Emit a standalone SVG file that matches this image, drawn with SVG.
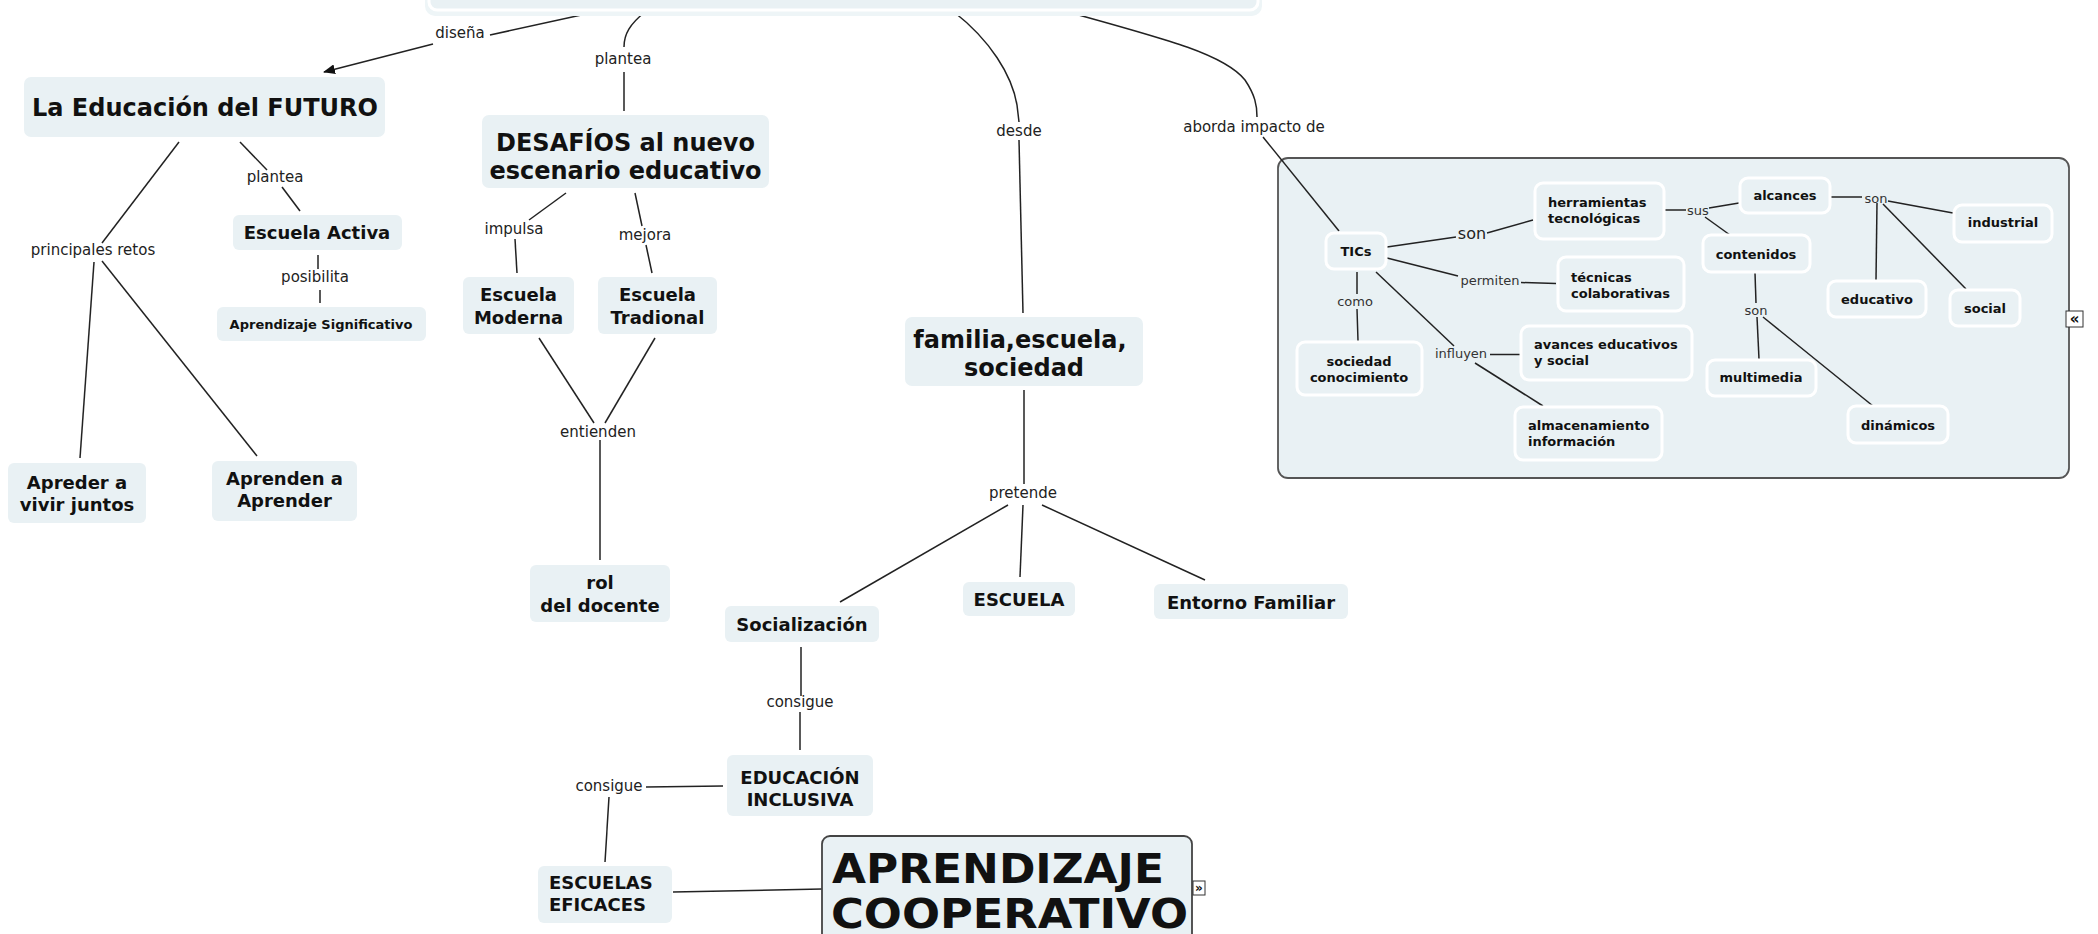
<svg xmlns="http://www.w3.org/2000/svg" width="2098" height="934" viewBox="0 0 2098 934">
<style>
.bg{fill:#ffffff}
.n{fill:#e9f1f4}
.in{fill:#e9f1f4;stroke:#ffffff;stroke-width:3}
.t{font-family:"DejaVu Sans",Verdana,sans-serif;font-weight:bold;fill:#111;text-anchor:middle}
.tl{font-family:"DejaVu Sans",Verdana,sans-serif;font-weight:bold;fill:#111;text-anchor:start}
.f24{font-size:24px}.f18{font-size:18px}.f13{font-size:13px}
.l{font-family:"DejaVu Sans",Verdana,sans-serif;font-size:15px;fill:#222;text-anchor:middle}
.ls{font-family:"DejaVu Sans",Verdana,sans-serif;font-size:13px;fill:#333;text-anchor:middle}
#connectors path,#connectors line{stroke:#222;stroke-width:1.5;fill:none}
</style>
<defs>
<marker id="arr" viewBox="0 0 12 10" refX="11" refY="5" markerWidth="12" markerHeight="10" markerUnits="userSpaceOnUse" orient="auto">
<path d="M0,0 L12,5 L0,10 Z" fill="#111"/>
</marker>
</defs>
<rect class="bg" x="0" y="0" width="2098" height="934"/>

<g id="tics-container">
<rect x="1278" y="158" width="791" height="320" rx="10" fill="#e9f1f4" stroke="#555" stroke-width="1.8"/>
<rect x="2066" y="311" width="17" height="16" fill="#fff" stroke="#333" stroke-width="1"/>
<text x="2074.5" y="324" font-family="DejaVu Sans,sans-serif" font-size="15" font-weight="bold" text-anchor="middle" fill="#111">«</text>
</g>

<g id="connectors">
<line x1="595" y1="12" x2="490" y2="35"/>
<line x1="433" y1="44" x2="324" y2="72" marker-end="url(#arr)"/>
<path d="M645,12 C630,24 624,34 624,47"/>
<line x1="624" y1="72" x2="624" y2="111"/>
<line x1="240" y1="142" x2="267" y2="170"/>
<line x1="282" y1="187" x2="300" y2="211"/>
<line x1="179" y1="142" x2="102" y2="243"/>
<line x1="94" y1="262" x2="80" y2="458"/>
<line x1="102" y1="261" x2="257" y2="456"/>
<line x1="318" y1="255" x2="318" y2="269"/>
<line x1="320" y1="290" x2="320" y2="303"/>
<line x1="566" y1="193" x2="529" y2="220"/>
<line x1="515" y1="239" x2="517" y2="273"/>
<line x1="635" y1="193" x2="642" y2="226"/>
<line x1="646" y1="245" x2="652" y2="273"/>
<line x1="539" y1="338" x2="594" y2="423"/>
<line x1="655" y1="338" x2="605" y2="423"/>
<line x1="600" y1="440" x2="600" y2="560"/>
<path d="M954,12 C990,40 1012,75 1017,105 L1019,122"/>
<line x1="1019" y1="140" x2="1023" y2="313"/>
<path d="M1068,12 C1170,40 1225,55 1245,80 C1255,95 1257,105 1257,117"/>
<line x1="1263" y1="137" x2="1339" y2="231"/>
<line x1="1024" y1="390" x2="1024" y2="484"/>
<line x1="1008" y1="505" x2="840" y2="602"/>
<line x1="1023" y1="505" x2="1020" y2="577"/>
<line x1="1042" y1="505" x2="1205" y2="580"/>
<line x1="801" y1="647" x2="801" y2="696"/>
<line x1="800" y1="712" x2="800" y2="750"/>
<line x1="723" y1="786" x2="646" y2="787"/>
<line x1="609" y1="797" x2="605" y2="862"/>
<line x1="673" y1="892" x2="822" y2="889"/>
<line x1="1387" y1="247" x2="1456" y2="237"/>
<line x1="1487" y1="233" x2="1533" y2="220"/>
<line x1="1387" y1="258" x2="1458" y2="276"/>
<line x1="1521" y1="282.5" x2="1556" y2="283.5"/>
<line x1="1357" y1="272" x2="1357" y2="294"/>
<line x1="1357" y1="309" x2="1358" y2="341"/>
<line x1="1376" y1="272" x2="1454" y2="346"/>
<line x1="1490" y1="354.5" x2="1520" y2="354.5"/>
<line x1="1475" y1="363" x2="1543" y2="406"/>
<line x1="1665" y1="210" x2="1686" y2="210"/>
<line x1="1709" y1="208" x2="1739" y2="203"/>
<line x1="1705" y1="217" x2="1730" y2="235"/>
<line x1="1831" y1="197" x2="1862" y2="197"/>
<line x1="1888" y1="201" x2="1953" y2="213"/>
<line x1="1877" y1="203" x2="1876" y2="280"/>
<line x1="1883" y1="204" x2="1966" y2="289"/>
<line x1="1755" y1="273" x2="1756" y2="303"/>
<line x1="1757" y1="317" x2="1759" y2="359"/>
<line x1="1763" y1="317" x2="1873" y2="406"/>
</g>

<g id="labels">
<text class="l" x="460" y="38">diseña</text>
<text class="l" x="623" y="64">plantea</text>
<text class="l" x="275" y="182">plantea</text>
<text class="l" x="93" y="255">principales retos</text>
<text class="l" x="315" y="282">posibilita</text>
<text class="l" x="514" y="234">impulsa</text>
<text class="l" x="645" y="240">mejora</text>
<text class="l" x="598" y="437">entienden</text>
<text class="l" x="1019" y="136">desde</text>
<text class="l" x="1254" y="132">aborda impacto de</text>
<text class="l" x="1023" y="498">pretende</text>
<text class="l" x="800" y="707">consigue</text>
<text class="l" x="609" y="791">consigue</text>
<text class="l" x="1472" y="238.5" style="font-size:16px">son</text>
<text class="ls" x="1490" y="284.5">permiten</text>
<text class="ls" x="1355" y="305.5">como</text>
<text class="ls" x="1461" y="358">influyen</text>
<text class="ls" x="1698" y="214.5">sus</text>
<text class="ls" x="1876" y="203">son</text>
<text class="ls" x="1756" y="315">son</text>
</g>

<g id="node-top">
<rect x="425" y="-40" width="837" height="56" rx="10" fill="#eef5f7"/>
<rect x="429" y="-40" width="829" height="50" rx="8" class="in"/>
</g>
<g id="node-futuro">
<rect class="n" x="24" y="77" width="361" height="60" rx="7"/>
<text class="t f24" x="205" y="115.5">La Educación del FUTURO</text>
</g>
<g id="node-activa">
<rect class="n" x="233" y="215" width="169" height="35" rx="6"/>
<text class="t f18" x="317" y="239">Escuela Activa</text>
</g>
<g id="node-significativo">
<rect class="n" x="217" y="307" width="209" height="34" rx="6"/>
<text class="t f13" x="321" y="328.5">Aprendizaje Significativo</text>
</g>
<g id="node-apreder">
<rect class="n" x="8" y="463" width="138" height="60" rx="6"/>
<text class="t f18" x="77" y="489">Apreder a</text>
<text class="t f18" x="77" y="511">vivir juntos</text>
</g>
<g id="node-aprenden">
<rect class="n" x="212" y="461" width="145" height="60" rx="6"/>
<text class="t f18" x="284.5" y="485">Aprenden a</text>
<text class="t f18" x="284.5" y="507">Aprender</text>
</g>
<g id="node-desafios">
<rect class="n" x="482" y="115" width="287" height="73" rx="7"/>
<text class="t f24" x="625.5" y="150.5">DESAFÍOS al nuevo</text>
<text class="t f24" x="625.5" y="178.5">escenario educativo</text>
</g>
<g id="node-moderna">
<rect class="n" x="463" y="277" width="111" height="57" rx="6"/>
<text class="t f18" x="518.5" y="301">Escuela</text>
<text class="t f18" x="518.5" y="324">Moderna</text>
</g>
<g id="node-tradional">
<rect class="n" x="598" y="277" width="119" height="57" rx="6"/>
<text class="t f18" x="657.5" y="301">Escuela</text>
<text class="t f18" x="657.5" y="324">Tradional</text>
</g>
<g id="node-rol">
<rect class="n" x="530" y="565" width="140" height="57" rx="6"/>
<text class="t f18" x="600" y="589">rol</text>
<text class="t f18" x="600" y="612">del docente</text>
</g>
<g id="node-familia">
<rect class="n" x="905" y="317" width="238" height="69" rx="7"/>
<text class="t f24" x="1020" y="347.5">familia,escuela,</text>
<text class="t f24" x="1024" y="375.5">sociedad</text>
</g>
<g id="node-socializacion">
<rect class="n" x="725" y="606" width="154" height="36" rx="6"/>
<text class="t f18" x="802" y="631">Socialización</text>
</g>
<g id="node-escuela">
<rect class="n" x="963" y="582" width="112" height="34" rx="6"/>
<text class="t f18" x="1019" y="606">ESCUELA</text>
</g>
<g id="node-entorno">
<rect class="n" x="1154" y="584" width="194" height="35" rx="6"/>
<text class="t f18" x="1251" y="609">Entorno Familiar</text>
</g>
<g id="node-inclusiva">
<rect class="n" x="727" y="755" width="146" height="61" rx="6"/>
<text class="t f18" x="800" y="784">EDUCACIÓN</text>
<text class="t f18" x="800" y="806">INCLUSIVA</text>
</g>
<g id="node-eficaces">
<rect class="n" x="538" y="866" width="134" height="57" rx="6"/>
<text class="tl f18" x="549" y="889">ESCUELAS</text>
<text class="tl f18" x="549" y="911">EFICACES</text>
</g>
<g id="node-cooperativo">
<rect x="822" y="836" width="370" height="120" rx="8" fill="#e9f1f4" stroke="#444" stroke-width="1.8"/>
<text class="tl" x="832" y="883" style="font-size:40px" textLength="332" lengthAdjust="spacingAndGlyphs">APRENDIZAJE</text>
<text class="tl" x="831" y="928" style="font-size:40px" textLength="357" lengthAdjust="spacingAndGlyphs">COOPERATIVO</text>
<rect x="1193" y="881" width="12" height="14" fill="#fff" stroke="#333" stroke-width="1"/>
<text x="1199" y="892" font-family="DejaVu Sans,sans-serif" font-size="12" font-weight="bold" text-anchor="middle" fill="#111">»</text>
</g>

<g id="node-tics">
<rect class="in" x="1326" y="233" width="60" height="36" rx="8"/>
<text class="t f13" x="1356" y="255.5">TICs</text>
</g>
<g id="node-herramientas">
<rect class="in" x="1535" y="183" width="129" height="56" rx="8"/>
<text class="tl f13" x="1548" y="207">herramientas</text>
<text class="tl f13" x="1548" y="223">tecnológicas</text>
</g>
<g id="node-tecnicas">
<rect class="in" x="1558" y="257" width="126" height="54" rx="8"/>
<text class="tl f13" x="1571" y="282">técnicas</text>
<text class="tl f13" x="1571" y="298">colaborativas</text>
</g>
<g id="node-avances">
<rect class="in" x="1521" y="326" width="171" height="54" rx="8"/>
<text class="tl f13" x="1534" y="348.5">avances educativos</text>
<text class="tl f13" x="1534" y="364.5">y social</text>
</g>
<g id="node-almacenamiento">
<rect class="in" x="1515" y="407" width="147" height="53" rx="8"/>
<text class="tl f13" x="1528" y="430">almacenamiento</text>
<text class="tl f13" x="1528" y="446">información</text>
</g>
<g id="node-sociedad">
<rect class="in" x="1297" y="342" width="125" height="53" rx="8"/>
<text class="t f13" x="1359" y="365.5">sociedad</text>
<text class="t f13" x="1359" y="381.5">conocimiento</text>
</g>
<g id="node-alcances">
<rect class="in" x="1740" y="178" width="90" height="35" rx="8"/>
<text class="t f13" x="1785" y="200">alcances</text>
</g>
<g id="node-contenidos">
<rect class="in" x="1703" y="235" width="107" height="37" rx="8"/>
<text class="t f13" x="1756" y="259">contenidos</text>
</g>
<g id="node-industrial">
<rect class="in" x="1954" y="205" width="98" height="37" rx="8"/>
<text class="t f13" x="2003" y="227">industrial</text>
</g>
<g id="node-educativo">
<rect class="in" x="1828" y="281" width="98" height="36" rx="8"/>
<text class="t f13" x="1877" y="303.5">educativo</text>
</g>
<g id="node-social">
<rect class="in" x="1950" y="290" width="70" height="36" rx="8"/>
<text class="t f13" x="1985" y="313">social</text>
</g>
<g id="node-multimedia">
<rect class="in" x="1707" y="360" width="109" height="36" rx="8"/>
<text class="t f13" x="1761" y="382">multimedia</text>
</g>
<g id="node-dinamicos">
<rect class="in" x="1848" y="406" width="100" height="37" rx="8"/>
<text class="t f13" x="1898" y="429.5">dinámicos</text>
</g>
</svg>
